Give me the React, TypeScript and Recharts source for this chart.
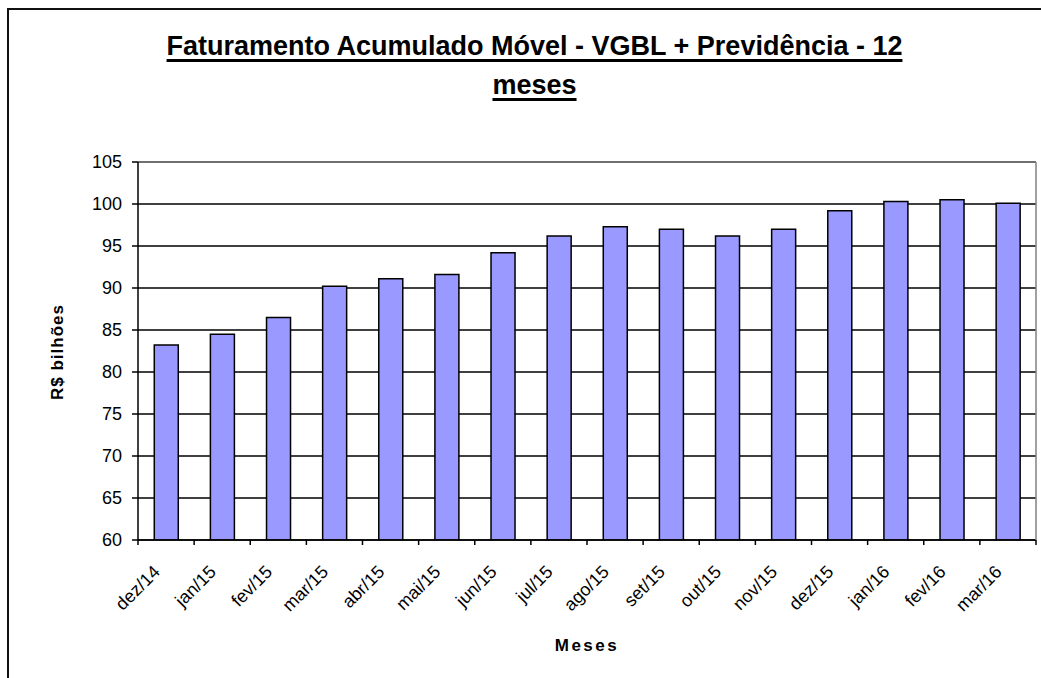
import React from 'react';
import { BarChart, Bar, XAxis, YAxis, CartesianGrid, ReferenceLine } from 'recharts';

const months = ['dez/14', 'jan/15', 'fev/15', 'mar/15', 'abr/15', 'mai/15', 'jun/15', 'jul/15', 'ago/15', 'set/15', 'out/15', 'nov/15', 'dez/15', 'jan/16', 'fev/16', 'mar/16'];
const faturamento = [83.2, 84.5, 86.5, 90.2, 91.1, 91.6, 94.2, 96.2, 97.3, 97.0, 96.2, 97.0, 99.2, 100.3, 100.5, 100.1];
const yTicks = [60, 65, 70, 75, 80, 85, 90, 95, 100, 105];

const W = 1041;
const H = 678;
const PLOT_LEFT = 138;
const PLOT_RIGHT = 1036;
const PLOT_TOP = 162;
const PLOT_BOTTOM = 540;
const FONT = '"Liberation Sans", Arial, sans-serif';
const TICK_FS = 18;

const data = months.map((m, i) => ({ month: m, value: faturamento[i] }));

const XTick = (props: any) => {
  const { x, y, payload, index } = props;
  const half = (PLOT_RIGHT - PLOT_LEFT) / months.length / 2;
  const bx = x - half;
  const tx = x - 5;
  const ty = y + 33;
  return (
    <g>
      <line x1={bx} y1={y} x2={bx} y2={y + 5} stroke="#000" strokeWidth={1.5} />
      {index === months.length - 1 && (
        <line x1={x + half} y1={y} x2={x + half} y2={y + 5} stroke="#000" strokeWidth={1.5} />
      )}
      <text
        x={tx}
        y={ty}
        textAnchor="end"
        transform={`rotate(-45, ${tx}, ${ty})`}
        fontSize={TICK_FS}
        fontFamily={FONT}
        fill="#000"
      >
        {payload.value}
      </text>
    </g>
  );
};

const titleStyle: React.CSSProperties = {
  position: 'absolute',
  left: 0,
  width: 1069,
  textAlign: 'center',
  fontFamily: FONT,
  fontWeight: 'bold',
  fontSize: 27,
  lineHeight: '27px',
  textDecoration: 'underline',
  textDecorationThickness: '3px',
  textUnderlineOffset: '4px',
  color: '#000',
  whiteSpace: 'nowrap',
};

export default function App() {
  return (
    <div style={{ position: 'absolute', left: 0, top: 0, width: W, height: H, overflow: 'hidden', background: '#fff' }}>
      <div
        style={{
          position: 'absolute',
          left: 7,
          top: 8,
          width: 2000,
          height: 2000,
          border: '2px solid #111',
          boxSizing: 'border-box',
        }}
      />
      <div style={{ ...titleStyle, top: 33 }}>Faturamento Acumulado Móvel - VGBL + Previdência - 12</div>
      <div style={{ ...titleStyle, top: 72 }}>meses</div>
      <div style={{ position: 'absolute', left: 0, top: 0 }}>
        <BarChart
          width={W}
          height={H}
          data={data}
          margin={{ top: PLOT_TOP, right: 0, bottom: 0, left: 0 }}
          barCategoryGap="29%"
        >
          <CartesianGrid yAxisId="left" vertical={false} stroke="#000" strokeWidth={1.4} />
          <XAxis
            dataKey="month"
            height={H - PLOT_BOTTOM}
            interval={0}
            tickSize={0}
            tickMargin={0}
            tickLine={false}
            axisLine={{ stroke: '#000', strokeWidth: 1.5 }}
            tick={<XTick />}
          />
          <YAxis
            yAxisId="left"
            width={PLOT_LEFT}
            domain={[60, 105]}
            ticks={yTicks}
            interval={0}
            allowDataOverflow
            tickSize={6}
            tickMargin={10}
            axisLine={{ stroke: '#000', strokeWidth: 1.5 }}
            tickLine={{ stroke: '#000', strokeWidth: 1.5 }}
            tick={{ fontSize: TICK_FS, fill: '#000', fontFamily: FONT }}
          />
          <YAxis
            yAxisId="right"
            orientation="right"
            width={W - PLOT_RIGHT}
            domain={[60, 105]}
            tick={false}
            tickLine={false}
            axisLine={{ stroke: '#808080', strokeWidth: 1.5 }}
          />
          <ReferenceLine yAxisId="left" y={105} stroke="#808080" strokeWidth={1.5} />
          <Bar
            yAxisId="left"
            dataKey="value"
            fill="#9999FF"
            stroke="#000"
            strokeWidth={1.5}
            isAnimationActive={false}
          />
        </BarChart>
      </div>
      <svg width={W} height={H} style={{ position: 'absolute', left: 0, top: 0, pointerEvents: 'none' }}>
        <text
          x={63}
          y={352}
          textAnchor="middle"
          transform="rotate(-90, 63, 352)"
          fontFamily={FONT}
          fontWeight="bold"
          fontSize={17}
          letterSpacing={1}
          fill="#000"
        >
          R$ bilhões
        </text>
        <text
          x={587}
          y={651}
          textAnchor="middle"
          fontFamily={FONT}
          fontWeight="bold"
          fontSize={17}
          letterSpacing={2.5}
          fill="#000"
        >
          Meses
        </text>
      </svg>
    </div>
  );
}
